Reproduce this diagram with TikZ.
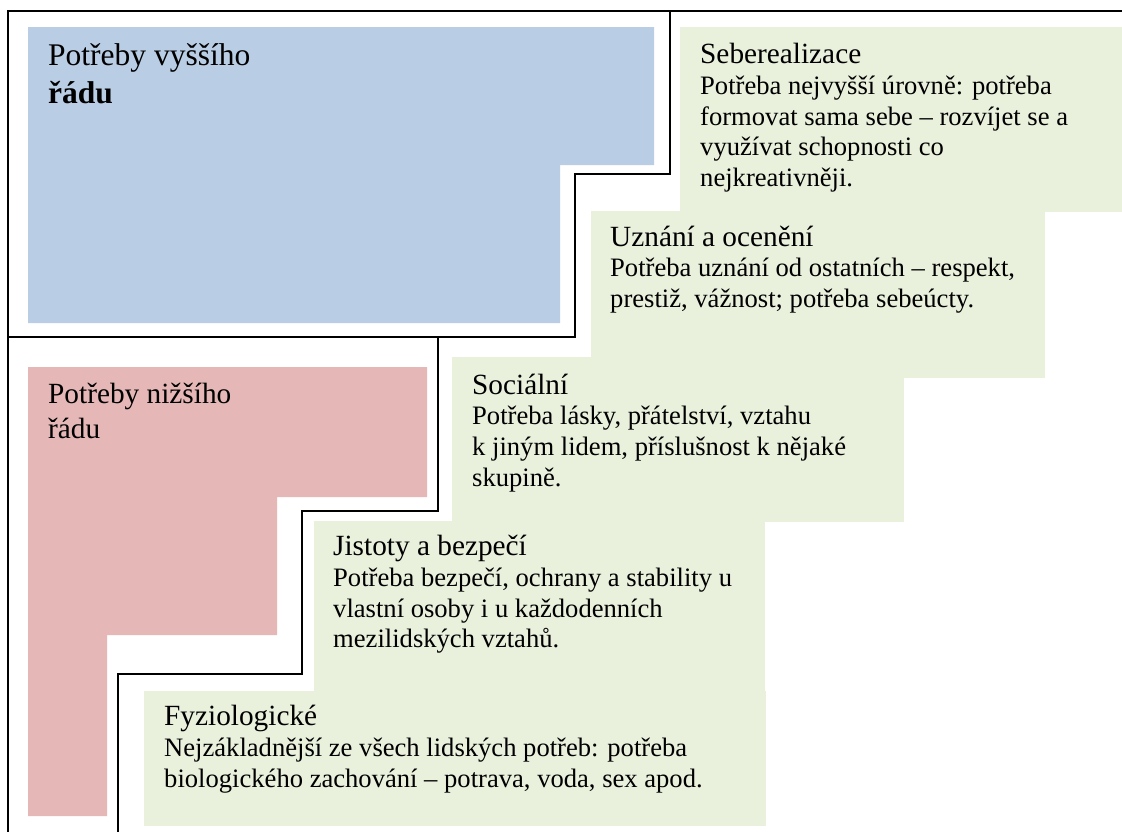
\documentclass[tikz,border=0pt]{standalone}
\usepackage{fontspec}
\setmainfont{Liberation Serif}

\definecolor{higherblue}{HTML}{B9CDE5}
\definecolor{lowerred}{HTML}{E5B8B7}
\definecolor{levelgreen}{HTML}{E9F0DC}

\newcommand\leveltitlesize{\fontsize{29.3}{30.8}\selectfont}
\newcommand\levelbodysize{\fontsize{26.6}{30.8}\selectfont}
\newcommand\highersize{\fontsize{31.5}{38.3}\selectfont}
\newcommand\lowersize{\fontsize{29.3}{35}\selectfont}

\begin{document}
\begin{tikzpicture}[x=1pt,y=-1pt,
  levelbox/.style={fill=levelgreen},
  divider/.style={draw=black,line width=1.6pt,line join=miter},
  leveltext/.style={anchor=base west,inner sep=0pt,font=\levelbodysize},
  ordertext/.style={anchor=base west,inner sep=0pt},
]
\useasboundingbox (0,0) rectangle (1122,831);
\fill[white] (0,0) rectangle (1122,831);

% the five levels of the staircase
\fill[levelbox] (680,27) rectangle (1122,211.5);
\fill[levelbox] (591,211) rectangle (1045,378);
\fill[levelbox] (452,357) rectangle (904,522);
\fill[levelbox] (314,521) rectangle (765,691);
\fill[levelbox] (144,690.5) rectangle (766,826);

% higher-order and lower-order needs
\fill[higherblue] (28,27) -- (654,27) -- (654,165) -- (560,165)
  -- (560,323) -- (28,323) -- cycle;
\fill[lowerred] (28,367) -- (427,367) -- (427,497) -- (277,497)
  -- (277,635) -- (107,635) -- (107,816) -- (28,816) -- cycle;

% dividing frame lines
\draw[divider] (1124,11) -- (8,11) -- (8,833);
\draw[divider] (670,11) -- (670,174) -- (575,174) -- (575,337) -- (8,337);
\draw[divider] (8,337) -- (438,337) -- (438,511) -- (302,511)
  -- (302,674) -- (118,674) -- (118,833);

% group labels
\node[ordertext,font=\highersize] (higher) at (48,65)
  {\parbox[t]{300pt}{\raggedright Potřeby vyššího\\ \textbf{řádu}}};
\node[ordertext,font=\lowersize] (lower) at (48,403.3)
  {\parbox[t]{300pt}{\raggedright Potřeby nižšího\\ řádu}};

% level texts
\node[leveltext] (seberealizace) at (700,63.5)
  {\parbox[t]{420pt}{\raggedright {\leveltitlesize Seberealizace}\\
   Potřeba nejvyšší úrovně: potřeba\\
   formovat sama sebe – rozvíjet se a\\
   využívat schopnosti co\\
   nejkreativněji.}};
\node[leveltext] (uznani) at (610,246)
  {\parbox[t]{420pt}{\raggedright {\leveltitlesize Uznání a ocenění}\\
   Potřeba uznání od ostatních – respekt,\\
   prestiž, vážnost; potřeba sebeúcty.}};
\node[leveltext] (socialni) at (472,394)
  {\parbox[t]{420pt}{\raggedright {\leveltitlesize Sociální}\\
   Potřeba lásky, přátelství, vztahu\\
   k jiným lidem, příslušnost k nějaké\\
   skupině.}};
\node[leveltext] (jistoty) at (333,555.5)
  {\parbox[t]{420pt}{\raggedright {\leveltitlesize Jistoty a bezpečí}\\
   Potřeba bezpečí, ochrany a stability u\\
   vlastní osoby i u každodenních\\
   mezilidských vztahů.}};
\node[leveltext] (fyziologicke) at (164,725.5)
  {\parbox[t]{600pt}{\raggedright {\leveltitlesize Fyziologické}\\
   Nejzákladnější ze všech lidských potřeb: potřeba\\
   biologického zachování – potrava, voda, sex apod.}};
\end{tikzpicture}
\end{document}
